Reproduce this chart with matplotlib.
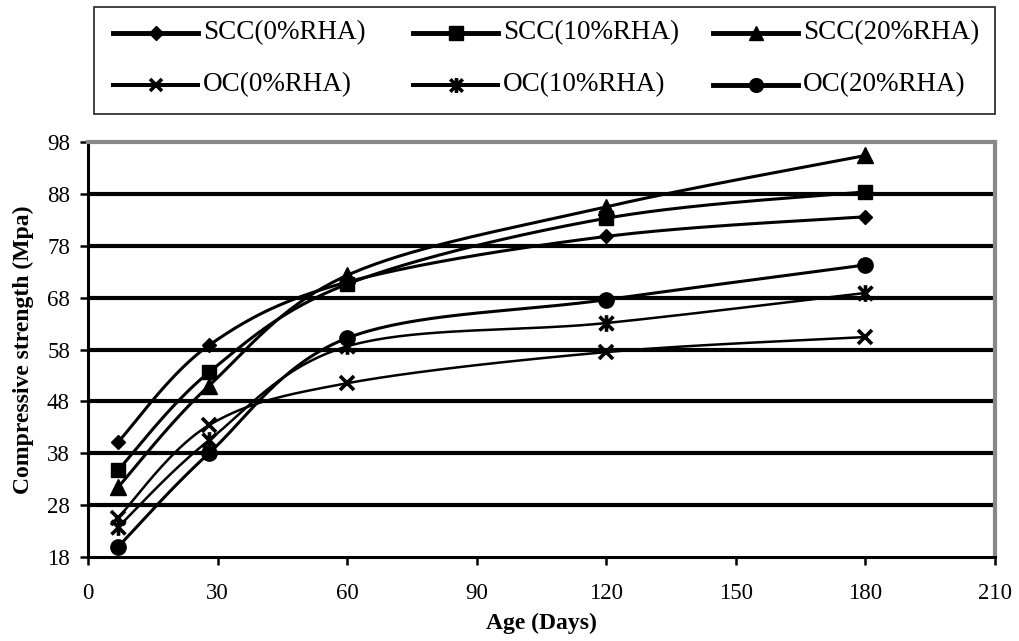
import numpy as np
import matplotlib
matplotlib.use('Agg')
import matplotlib.pyplot as plt
from matplotlib.lines import Line2D
from matplotlib.patches import Rectangle
from matplotlib.path import Path

plt.rcParams['font.family'] = ['Liberation Serif', 'DejaVu Serif']

# compressive strength (MPa) vs curing age (days)
ages = [7, 28, 60, 120, 180]
scc_0 = [40.2, 58.8, 71.0, 79.8, 83.6]
scc_10 = [34.8, 53.6, 70.6, 83.3, 88.4]
scc_20 = [31.5, 51.0, 72.3, 85.5, 95.4]
oc_0 = [25.6, 43.4, 51.5, 57.5, 60.4]
oc_10 = [23.8, 40.5, 58.6, 63.1, 68.9]
oc_20 = [20.0, 38.0, 60.2, 67.6, 74.3]

labels = ['SCC(0%RHA)', 'SCC(10%RHA)', 'SCC(20%RHA)',
          'OC(0%RHA)', 'OC(10%RHA)', 'OC(20%RHA)']
series = [scc_0, scc_10, scc_20, oc_0, oc_10, oc_20]

# x with a vertical bar through it
star = Path([(-1, -1), (1, 1), (-1, 1), (1, -1), (0, -1.2), (0, 1.2)],
            [Path.MOVETO, Path.LINETO] * 3)

styles = [
    dict(marker='D', ms=7.5, lw=2.2),
    dict(marker='s', ms=10.5, lw=2.2),
    dict(marker='^', ms=11, lw=2.2),
    dict(marker='x', ms=10, mew=2.6, lw=1.8),
    dict(marker=star, ms=12, mew=2.6, lw=1.8),
    dict(marker='o', ms=11, lw=2.2),
]


def smooth(x, y, n=40):
    # bezier segments through the points, tangents from neighbours (tension 1/6)
    p = np.column_stack((x, y)).astype(float)
    out = []
    for i in range(len(p) - 1):
        a = p[i]
        b = p[i + 1]
        pa = p[i - 1] if i > 0 else p[i]
        pb = p[i + 2] if i + 2 < len(p) else p[i + 1]
        c1 = a + (b - pa) / 6
        c2 = b - (pb - a) / 6
        t = np.linspace(0, 1, n)[:, None]
        seg = ((1 - t) ** 3 * a + 3 * (1 - t) ** 2 * t * c1
               + 3 * (1 - t) * t ** 2 * c2 + t ** 3 * b)
        out.append(seg if i == 0 else seg[1:])
    out = np.vstack(out)
    return out[:, 0], out[:, 1]


fig = plt.figure(figsize=(10.2, 6.41), dpi=100)
ax = fig.add_axes([88 / 1020, 1 - 557 / 641, 907 / 1020, 415 / 641])

for yv in range(28, 98, 10):
    ax.axhline(yv, color='black', lw=3.0, zorder=1)

for vals, st in zip(series, styles):
    sx, sy = smooth(ages, vals)
    ax.plot(sx, sy, color='black', lw=st['lw'], zorder=3, solid_capstyle='round')
    ax.plot(ages, vals, ls='none', marker=st['marker'], ms=st['ms'],
            mew=st.get('mew', 1), color='black', zorder=4, clip_on=False)

ax.set_xlim(0, 210)
ax.set_ylim(18, 98)
ax.set_xticks(range(0, 211, 30))
ax.set_yticks(range(18, 99, 10))
ax.tick_params(direction='out', length=6, width=1.8, labelsize=16.5)
ax.tick_params(axis='x', pad=13)
ax.tick_params(axis='y', pad=7)

for s in ('left', 'bottom'):
    ax.spines[s].set_color('black')
    ax.spines[s].set_linewidth(2.2)
for s in ('top', 'right'):
    ax.spines[s].set_color('#888888')
    ax.spines[s].set_linewidth(3)

ax.set_xlabel('Age (Days)', fontsize=17, fontweight='bold', labelpad=6)
ax.set_ylabel('Compressive strength (Mpa)', fontsize=17, fontweight='bold', labelpad=9)

# legend box above the plot, three columns
fig.patches.append(Rectangle((94 / 1020, 1 - 114 / 641), 901 / 1020, 107 / 641,
                             transform=fig.transFigure, fill=False,
                             edgecolor='#222222', lw=1.2))
col_x = [113, 413, 713]
row_y = [33, 85]
for i, (lab, st) in enumerate(zip(labels, styles)):
    x0 = col_x[i % 3]
    yy = 1 - row_y[i // 3] / 641
    xs = np.array([x0, x0 + 42.5, x0 + 85]) / 1020
    fig.add_artist(Line2D(xs, [yy] * 3, color='black', lw=st['lw'] * 1.6,
                          marker=st['marker'], ms=st['ms'] * 0.9,
                          mew=st.get('mew', 1), markevery=[1],
                          transform=fig.transFigure))
    fig.text((x0 + 90) / 1020, yy, lab, fontsize=19.5, va='center', ha='left')

fig.savefig('out.png', dpi=100)
